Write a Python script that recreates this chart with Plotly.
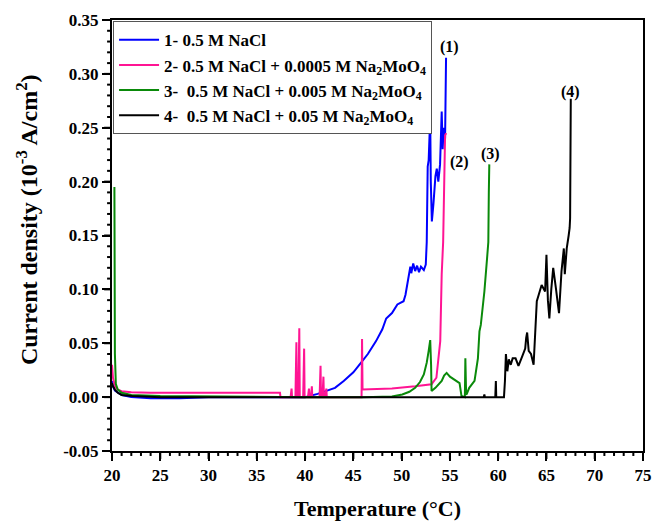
import plotly.graph_objects as go

# Temperature (°C) and current density (10^-3 A/cm^2) for each solution
t_nacl = [20.0, 20.1, 20.3, 20.6, 21.0, 22.0, 24.0, 27.0, 30.0, 35.0, 40.0, 41.3, 42.2, 43.1,
          44.0, 45.0, 45.8, 46.5, 47.35, 48.0, 48.4, 49.0, 49.56, 50.2, 50.4, 50.6, 50.9, 51.0,
          51.2, 51.4, 51.6, 51.8, 52.0, 52.3, 52.5, 52.6, 52.7, 52.8, 52.96, 53.02, 53.13, 53.3,
          53.5, 53.64, 53.8, 53.98, 54.15, 54.25, 54.35, 54.5, 54.6]
j_nacl = [0.015, 0.010, 0.006, 0.004, 0.002, 0.000, -0.001, -0.001, 0.000, 0.000, 0.000, 0.003,
          0.006, 0.0086, 0.015, 0.023, 0.032, 0.040, 0.052, 0.063, 0.073, 0.078, 0.086, 0.089,
          0.095, 0.104, 0.121, 0.115, 0.124, 0.117, 0.122, 0.116, 0.121, 0.118, 0.123, 0.144,
          0.214, 0.22, 0.26, 0.20, 0.163, 0.18, 0.205, 0.212, 0.20, 0.216, 0.265, 0.23, 0.25,
          0.24, 0.315]

t_mo0005 = [20.0, 20.1, 20.3, 20.6, 21.0, 22.0, 24.0, 28.0, 32.0, 37.4, 37.45, 38.5, 38.6, 38.65,
            39.0, 39.1, 39.15, 39.3, 39.4, 39.45, 39.8, 39.9, 39.95, 40.3, 40.4, 40.45, 40.6,
            40.7, 40.75, 40.9, 41.5, 41.6, 41.65, 41.8, 41.9, 41.95, 42.1, 42.2, 42.25, 45.85,
            45.9, 45.95, 47.0, 49.0, 51.4, 53.1, 53.6, 54.0, 54.15, 54.3, 54.5, 54.62]
j_mo0005 = [0.030, 0.018, 0.010, 0.007, 0.0055, 0.0045, 0.004, 0.004, 0.004, 0.004, 0.0, 0.0,
            0.008, 0.0, 0.0, 0.051, 0.0, 0.0, 0.064, 0.0, 0.0, 0.045, 0.0, 0.0, 0.008, 0.0, 0.0,
            0.010, 0.0, 0.0, 0.0, 0.029, 0.0, 0.0, 0.019, 0.0, 0.0, 0.008, 0.0, 0.0, 0.054,
            0.007, 0.0075, 0.008, 0.010, 0.012, 0.018, 0.052, 0.114, 0.144, 0.243, 0.245]

t_mo005 = [20.25, 20.3, 20.4, 20.6, 21.0, 22.0, 25.0, 30.0, 40.0, 46.0, 48.0, 49.0, 50.07, 50.8,
           51.4, 51.9, 52.3, 52.6, 52.8, 52.96, 53.05, 53.1, 53.5, 53.9, 54.15, 54.4, 54.66, 55.0,
           55.5, 56.0, 56.2, 56.4, 56.55, 56.6, 56.68, 56.75, 57.0, 57.55, 57.9, 58.06, 58.2,
           58.57, 58.85, 58.98, 59.03, 59.08]
j_mo005 = [0.195, 0.04, 0.012, 0.007, 0.004, 0.002, 0.001, 0.0005, 0.0, 0.0, 0.0, 0.0005, 0.0025,
           0.005, 0.0086, 0.014, 0.021, 0.032, 0.043, 0.053, 0.03, 0.0056, 0.0086, 0.012, 0.015,
           0.02, 0.0225, 0.019, 0.016, 0.013, 0.001, 0.0, 0.0, 0.036, 0.0025, 0.003, 0.0086,
           0.015, 0.036, 0.061, 0.067, 0.098, 0.129, 0.144, 0.19, 0.216]

t_mo05 = [20.0, 20.1, 20.3, 20.6, 21.0, 22.1, 25.0, 30.0, 40.0, 50.0, 58.5, 58.57, 58.62, 59.7,
          59.76, 59.8, 60.6, 60.7, 60.8, 60.95, 61.1, 61.3, 61.5, 61.8, 62.1, 62.5, 62.8, 62.9,
          63.0, 63.16, 63.4, 63.67, 63.85, 64.0, 64.2, 64.5, 64.86, 65.0, 65.15, 65.3, 65.5,
          65.7, 65.98, 66.3, 66.56, 66.8, 66.9, 67.1, 67.3, 67.4, 67.45, 67.5, 67.52]
j_mo05 = [0.013, 0.010, 0.007, 0.004, 0.002, 0.001, 0.0, 0.0, 0.0, 0.0, 0.0, 0.0025, 0.0, 0.0,
          0.015, 0.0, 0.0, 0.015, 0.04, 0.024, 0.035, 0.030, 0.036, 0.036, 0.029, 0.038, 0.045,
          0.055, 0.060, 0.043, 0.040, 0.030, 0.064, 0.089, 0.095, 0.104, 0.098, 0.132, 0.09,
          0.073, 0.10, 0.12, 0.101, 0.078, 0.117, 0.138, 0.114, 0.138, 0.15, 0.157, 0.166,
          0.225, 0.277]

names = ["1- 0.5 M NaCl",
         "2- 0.5 M NaCl + 0.0005 M Na<sub>2</sub>MoO<sub>4</sub>",
         "3-\u00a0 0.5 M NaCl + 0.005 M Na<sub>2</sub>MoO<sub>4</sub>",
         "4-\u00a0 0.5 M NaCl + 0.05 M Na<sub>2</sub>MoO<sub>4</sub>"]
colors = ["#0000ff", "#ff1493", "#0a8a0a", "#000000"]
series_t = [t_nacl, t_mo0005, t_mo005, t_mo05]
series_j = [j_nacl, j_mo0005, j_mo005, j_mo05]

# Tick positions and labels
x_ticks = [20, 25, 30, 35, 40, 45, 50, 55, 60, 65, 70, 75]
x_ticklabels = ["20", "25", "30", "35", "40", "45", "50", "55", "60", "65", "70", "75"]
y_ticks = [-0.05, 0.0, 0.05, 0.10, 0.15, 0.20, 0.25, 0.30, 0.35]
y_ticklabels = ["-0.05", "0.00", "0.05", "0.10", "0.15", "0.20", "0.25", "0.30", "0.35"]
x_minor_step = 1
y_minor_step = 0.01

# Curve labels and where they sit
label_text = ["(1)", "(2)", "(3)", "(4)"]
label_t = [55.0, 55.95, 59.25, 67.45]
label_j = [0.325, 0.218, 0.226, 0.283]

FONT = "Liberation Serif"
X_RANGE = [20, 75]
Y_RANGE = [-0.05, 0.35]
PLOT_W, PLOT_H = 540, 434          # plot area size in px (663x525 minus margins)
MAJOR_LEN, MINOR_LEN = 8, 5

fig = go.Figure()
for t, j, n, c in zip(series_t, series_j, names, colors):
    fig.add_trace(go.Scatter(x=t, y=j, mode="lines", name=n,
                             line=dict(color=c, width=2)))

for txt, x, y in zip(label_text, label_t, label_j):
    fig.add_annotation(x=x, y=y, text=f"<b>{txt}</b>", showarrow=False,
                       font=dict(family=FONT, size=16, color="black"))

# Axis titles placed as paper-anchored annotations
fig.add_annotation(xref="paper", yref="paper", x=0.5, y=-0.134,
                   text="<b>Temperature (°C)</b>", showarrow=False,
                   xanchor="center", yanchor="middle",
                   font=dict(family=FONT, size=22, color="black"))
fig.add_annotation(xref="paper", yref="paper", x=-0.161, y=0.537,
                   text="<b>Current density (10<sup>-3</sup> A/cm<sup>2</sup>)</b>",
                   showarrow=False, textangle=-90,
                   xanchor="center", yanchor="middle",
                   font=dict(family=FONT, size=24, color="black"))

# Outward tick marks (major and minor) on the bottom and left frame edges
def x_frac(v):
    return (v - X_RANGE[0]) / (X_RANGE[1] - X_RANGE[0])

def y_frac(v):
    return (v - Y_RANGE[0]) / (Y_RANGE[1] - Y_RANGE[0])

n_x_minor = int(round((X_RANGE[1] - X_RANGE[0]) / x_minor_step))
n_y_minor = int(round((Y_RANGE[1] - Y_RANGE[0]) / y_minor_step))
x_minor = [X_RANGE[0] + k * x_minor_step for k in range(n_x_minor + 1)]
y_minor = [Y_RANGE[0] + k * y_minor_step for k in range(n_y_minor + 1)]

tick_line = dict(color="black", width=2)
for v in x_minor:
    is_major = any(abs(v - m) < 1e-9 for m in x_ticks)
    length = MAJOR_LEN if is_major else MINOR_LEN
    fig.add_shape(type="line", xref="x domain", yref="y domain", layer="above",
                  x0=x_frac(v), x1=x_frac(v), y0=0, y1=-length / PLOT_H, line=tick_line)
for v in y_minor:
    is_major = any(abs(v - m) < 1e-9 for m in y_ticks)
    length = MAJOR_LEN if is_major else MINOR_LEN
    fig.add_shape(type="line", xref="x domain", yref="y domain", layer="above",
                  x0=0, x1=-length / PLOT_W, y0=y_frac(v), y1=y_frac(v), line=tick_line)

fig.update_layout(
    width=663, height=525,
    margin=dict(l=112, r=11, t=17, b=74),
    plot_bgcolor="white",
    xaxis=dict(range=X_RANGE, tickmode="array", tickvals=x_ticks,
               ticktext=[f"<b>{s}</b>" for s in x_ticklabels],
               showline=True, linecolor="black", linewidth=2, mirror=True,
               ticks="outside", ticklen=MAJOR_LEN, tickwidth=2, tickcolor="black",
               tickfont=dict(family=FONT, size=17, color="black"),
               showgrid=False, zeroline=False),
    yaxis=dict(range=Y_RANGE, tickmode="array", tickvals=y_ticks,
               ticktext=[f"<b>{s}</b>" for s in y_ticklabels],
               showline=True, linecolor="black", linewidth=2, mirror=True,
               ticks="outside", ticklen=MAJOR_LEN, tickwidth=2, tickcolor="black",
               tickfont=dict(family=FONT, size=17, color="black"),
               showgrid=False, zeroline=False),
    legend=dict(x=0.002, y=0.997, xanchor="left", yanchor="top",
                bgcolor="white", bordercolor="#555555", borderwidth=1,
                font=dict(family=FONT, size=17, color="black", weight="bold"),
                tracegroupgap=0, itemwidth=40),
)

fig.write_html("out.html")
